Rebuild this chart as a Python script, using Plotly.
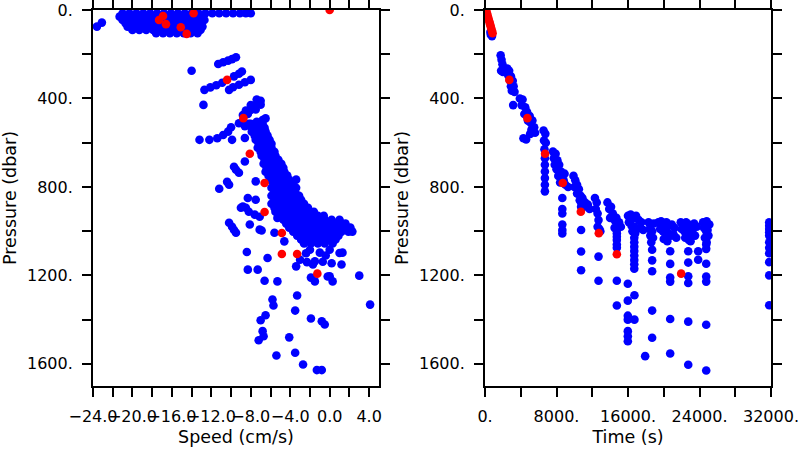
import plotly.graph_objects as go

# ---------------- LEFT PANEL: speed vs pressure ----------------
# top blob (near surface)
top_speed = [-21.0,-20.3,-19.6,-18.9,-18.2,-17.5,-16.8,-16.1,-15.4,-14.7,-14.0,-13.3,-12.6,-11.9,-11.2,-10.5,-9.8,-9.1,-8.5,-8.0,
             -21.3,-20.6,-19.9,-19.2,-18.5,-17.8,-17.1,-16.4,-15.7,-15.0,-14.3,-13.6,-12.9,
             -21.0,-20.3,-19.6,-18.9,-18.2,-17.5,-16.8,-16.1,-15.4,-14.7,-14.0,-13.3,-12.7,
             -20.7,-20.0,-19.3,-18.6,-17.9,-17.2,-16.5,-15.8,-15.1,-14.4,-13.7,-13.0,
             -20.5,-19.8,-19.1,-18.4,-17.7,-17.0,-16.3,-15.6,-14.9,-14.2,-13.5,-12.9,
             -20.0,-19.3,-18.6,-17.9,-17.2,-16.5,-15.8,-15.1,-14.4,-13.7,-13.1,
             -17.6,-16.9,-16.2,-15.5,-14.8,-14.1,-13.4,
             -23.6,-23.1]
top_pres = [15]*20 + [30]*13 + [45]*13 + [60]*12 + [75]*12 + [90]*11 + [105]*7 + [75, 57]

# scattered streaks in the upper/mid water column
mid_speed = [-11.3,-10.8,-10.3,-9.9,-9.5,-14.0,
             -12.7,-12.1,-11.5,-10.9,-9.7,-9.2,-8.9,-9.8,-9.2,-8.6,-8.0,-10.2,
             -12.8,-7.4,-7.0,-8.0,-7.5,-7.0,-8.5,-8.0,-7.5,-8.8,-8.3,-7.8,-7.2,
             -9.2,-8.6,-8.0,-7.4,-6.8,-6.5,
             -13.2,-12.2,-11.4,-10.8,-10.3,-10.0,-9.9,-8.6,
             -8.6,-9.7,-9.5,-9.2,-10.4,-10.2,-11.2,-7.5,
             -8.3,-7.5,-3.4,-8.5,-8.8,-8.2,-7.6,-7.1,-9.0,
             -10.2,-9.9,-9.7,-9.5,-8.1,-6.9,-5.6,-7.1,-5.3]
mid_pres = [244,236,229,222,214,275,
            361,350,340,329,300,288,278,349,338,327,316,361,
            429,405,410,430,432,428,455,452,450,475,470,440,418,
            512,525,515,505,498,490,
            587,587,580,565,550,530,587,579,
            685,709,722,736,777,790,808,775,
            850,858,767,894,889,912,925,935,894,
            962,980,995,1007,970,997,1007,993,940]

# dense band
band_speed = [-8.2,-7.5,-6.8, -7.9,-7.2,-6.6,
              -7.9,-7.2,-6.5, -7.6,-6.9,-6.3, -7.5,-6.8,-6.1, -7.2,-6.5,-5.9,
              -7.3,-6.6,-5.9, -7.0,-6.3,-5.6, -6.9,-6.2,-5.5, -6.6,-5.9,-5.2,
              -6.7,-6.0,-5.4,-4.9, -6.4,-5.7,-5.1,-4.7, -6.5,-5.9,-5.2,-4.6,
              -6.2,-5.6,-4.9,-4.3, -6.0,-5.4,-4.7,-4.1, -5.7,-5.1,-4.4,-3.8,
              -5.9,-5.2,-4.5,-3.8,-3.4, -5.6,-4.9,-4.2,-3.5,
              -5.9,-5.2,-4.5,-3.8,-3.1, -5.6,-4.9,-4.2,-3.5,-2.9,
              -5.9,-5.2,-4.5,-3.8,-3.2,-2.6, -5.6,-4.9,-4.2,-3.5,-2.9,-2.2,
              -5.5,-4.8,-4.1,-3.5,-2.9,-2.2,-1.6, -5.1,-4.4,-3.8,-3.2,-2.5,-1.9,-1.2,-0.6,
              -4.7,-4.0,-3.3,-2.6,-1.9,-1.2,-0.5,0.2,1.0,
              -4.4,-3.7,-3.0,-2.3,-1.6,-0.9,-0.2,0.5,1.2,1.6,
              -4.1,-3.4,-2.7,-2.0,-1.3,-0.6,0.1,0.8,1.6,2.1,
              -3.7,-3.0,-2.3,-1.6,-0.9,-0.2,0.5,1.2,1.9,2.3,
              -3.3,-2.6,-1.9,-1.2,-0.5,0.2,0.9,
              -2.9,-2.2,-1.5,-0.8,-0.1,0.6,
              -2.6,-1.9,-1.2,-0.5,0.3]
band_pres = ([515]*3 + [533]*3 + [550]*3 + [568]*3 + [587]*3 + [605]*3 +
             [623]*3 + [641]*3 + [659]*3 + [677]*3 +
             [695]*4 + [713]*4 + [731]*4 + [749]*4 + [768]*4 + [786]*4 +
             [804]*5 + [822]*4 + [840]*5 + [858]*5 + [876]*6 + [894]*6 +
             [912]*7 + [930]*8 + [948]*9 + [966]*10 + [984]*10 + [1002]*10 +
             [1020]*7 + [1038]*6 + [1056]*5)

# deep scattered points
deep_speed = [-4.6,-8.4,-6.3,-8.3,-7.3,-6.6,-5.3,-3.4,-3.0,-2.3,-1.7,-1.9,-1.5,-0.2,0.3,
              -0.7,0.2,1.2,1.0,3.0,4.1,-3.3,-5.8,-5.7,-3.5,-1.9,-0.8,-0.5,-6.5,-7.0,
              -6.8,-6.7,-7.2,-4.1,-5.4,-3.5,-2.7,-1.3,-0.8,-2.0,-1.0,0.0,1.3,-1.5,0.0,-2.4,-0.4]
deep_pres = [1046,1094,1121,1174,1174,1224,1227,1159,1129,1140,1151,1210,1227,1205,1227,
             1138,1145,1151,1099,1201,1332,1291,1309,1336,1359,1395,1407,1422,1380,1403,
             1452,1475,1493,1480,1562,1550,1603,1628,1628,1084,1097,1084,1097,1136,1204,1100,1110]

red_speed = [-17.3,-16.9,-16.6,-15.1,-14.5,-13.8,0.0,-10.4,-8.75,-8.1,-6.6,-6.6,-4.85,-4.85,-3.3,-1.25]
red_pres_l = [45,27,64,78,108,15,0,316,489,650,782,913,1008,1103,1103,1192]

# ---------------- RIGHT PANEL: time vs pressure ----------------
blue_time = [600,700,780,650,
             1750,1850,1950,1800,2000,
             2500,2700,2600,2900,2800,3100,2900,3200,3000,3300,3150,
             3900,4200,4100,4500,4400,4700,4800,5000,5100,5300,5200,5500,5600,5050,4300,4600,
             6550,6750,6600,6800,6650,6700,6700,6700,6700,6700,6700,
             7600,7700,7900,8100,7800,8000,8300,8500,8200,8600,8800,9000,8900,9300,8400,
             8650,8650,8650,8650,8650,8650,
             9900,10100,10000,10300,10500,10300,10700,10600,10900,11200,11500,11000,11700,
             10750,10750,10750,10750,10750,
             12300,12500,12400,12600,12700,12600,12800,12900,12700,12700,
             13700,13900,14100,14300,14000,14500,14700,14800,15000,15200,14500,
             14750,14750,14750,14750,14750,14750,14750,14750,
             15980,15980,16720,15980,15980,16720,15980,15980,15980,17920,
             16000,16300,16600,16900,17200,17500,16100,16400,16700,17000,17300,17700,16500,16800,
             16700,16700,16700,16700,16700,16700,16700,16700,
             18300,18600,18900,18400,18700,18500,18800,18600,
             18700,18700,18700,18700,18700,
             19400,19700,20000,20300,20600,20900,21200,19600,19900,20200,20500,20800,21100,21400,20000,20400,
             20720,20720,20720,20720,20720,20720,
             21900,22200,22500,22800,23100,23400,23700,22000,22300,22600,22900,23200,23500,22400,22800,23000,
             22740,22740,22740,22740,22740,22740,23850,23850,
             24400,24800,25100,24500,24900,25000,24600,24800,
             24750,24750,24750,24750,24750,24750,24750,24750,24750,
             31800,31800,31800,31800,31800,31800,31800,31800,31800,31800,31800]
blue_pres_r = [100,110,118,112,
               205,225,245,275,280,
               265,275,295,300,320,320,345,345,365,370,430,
               400,405,430,440,470,460,500,480,510,500,540,530,555,560,580,585,
               545,560,590,600,630,670,700,730,760,790,820,
               640,670,650,680,700,720,700,730,750,760,770,790,740,800,780,
               850,900,920,970,995,1010,
               750,770,800,790,810,830,840,860,850,870,880,890,900,
               870,890,995,1092,1177,
               850,870,900,920,950,980,990,1000,1115,1224,
               870,900,890,920,940,950,940,970,960,980,985,
               995,1010,1025,1040,1060,1075,1224,1336,
               1238,1314,1290,1382,1400,1400,1452,1475,1498,1565,
               930,925,940,930,950,960,960,975,980,990,985,995,1000,1010,
               1030,1050,1070,1090,1110,1130,1150,1170,
               960,970,965,990,1000,1020,1030,1050,
               1084,1132,1181,1359,1482,
               960,955,965,960,975,970,985,990,1000,995,1010,1020,1015,1030,1035,1045,
               1091,1148,1210,1228,1397,1553,
               960,965,960,970,975,965,980,990,1000,995,1010,1005,1020,1030,1040,1045,
               1091,1142,1204,1234,1409,1604,1091,1129,
               960,955,970,985,995,1020,1030,1050,
               1000,1030,1060,1080,1147,1205,1228,1423,1630,
               960,975,990,1005,1020,1050,1075,1100,1140,1200,1335]

red_time = [60,150,220,290,360,430,500,570,640,710,780,850,
            2720,4740,6720,8700,10720,12730,14750,21950]
red_pres_r = [0,5,15,25,35,45,55,65,75,85,95,105,
              316,489,650,782,912,1009,1104,1192]

# ---------------- axes ticks ----------------
speed_tick_vals = [-24,-22,-20,-18,-16,-14,-12,-10,-8,-6,-4,-2,0,2,4]
speed_tick_text = ["\u221224.0","","\u221220.0","","\u221216.0","","\u221212.0","",
                   "\u22128.0","","\u22124.0","","0.0","","4.0"]
time_tick_vals = [0,4000,8000,12000,16000,20000,24000,28000,32000]
time_tick_text = ["0.","","8000.","","16000.","","24000.","","32000."]
pres_tick_vals = [0,200,400,600,800,1000,1200,1400,1600]
pres_tick_text = ["0.","","400.","","800.","","1200.","","1600."]

BLUE = "#0000ff"
RED = "#ff0000"
MS = 8.6
FONT = "DejaVu Sans"

fig = go.Figure()
left_speed = top_speed + mid_speed + band_speed + deep_speed
left_pres = top_pres + mid_pres + band_pres + deep_pres
fig.add_trace(go.Scatter(x=left_speed, y=left_pres, mode="markers",
                         marker=dict(color=BLUE, size=MS, line=dict(width=0)),
                         xaxis="x", yaxis="y", showlegend=False))
fig.add_trace(go.Scatter(x=red_speed, y=red_pres_l, mode="markers",
                         marker=dict(color=RED, size=MS, line=dict(width=0)),
                         xaxis="x", yaxis="y", showlegend=False))
fig.add_trace(go.Scatter(x=blue_time, y=blue_pres_r, mode="markers",
                         marker=dict(color=BLUE, size=MS, line=dict(width=0)),
                         xaxis="x2", yaxis="y2", showlegend=False))
fig.add_trace(go.Scatter(x=red_time, y=red_pres_r, mode="markers",
                         marker=dict(color=RED, size=MS, line=dict(width=0)),
                         xaxis="x2", yaxis="y2", showlegend=False))

axis_common = dict(showline=True, linewidth=2, linecolor="black", mirror="allticks",
                   ticks="outside", ticklen=9, tickwidth=1.5, tickcolor="black",
                   showgrid=False, zeroline=False, tickangle=0, automargin=False,
                   tickfont=dict(family=FONT, size=16, color="black"))

fig.update_layout(
    width=800, height=450,
    paper_bgcolor="white", plot_bgcolor="white",
    margin=dict(l=93, r=29, t=10, b=64, autoexpand=False),
    xaxis=dict(domain=[0, 0.4218], range=[-24, 5], tickmode="array",
               tickvals=speed_tick_vals, ticktext=speed_tick_text,
               title=dict(text="Speed (cm/s)", font=dict(family=FONT, size=17.5, color="black"), standoff=6),
               ticklabelstandoff=6, anchor="y", **axis_common),
    yaxis=dict(domain=[0, 1], range=[1700, 0], tickmode="array",
               tickvals=pres_tick_vals, ticktext=pres_tick_text,
               title=dict(text="Pressure (dbar)", font=dict(family=FONT, size=17.5, color="black"), standoff=6),
               ticklabelstandoff=6, anchor="x", **axis_common),
    xaxis2=dict(domain=[0.5782, 1], range=[0, 32000], tickmode="array",
                tickvals=time_tick_vals, ticktext=time_tick_text,
                title=dict(text="Time (s)", font=dict(family=FONT, size=17.5, color="black"), standoff=6),
                ticklabelstandoff=6, anchor="y2", **axis_common),
    yaxis2=dict(domain=[0, 1], range=[1700, 0], tickmode="array",
                tickvals=pres_tick_vals, ticktext=pres_tick_text,
                title=dict(text="Pressure (dbar)", font=dict(family=FONT, size=17.5, color="black"), standoff=6),
                ticklabelstandoff=6, anchor="x2", **axis_common),
)

fig.write_html("out.html", config={"displayModeBar": False},
               post_script="document.body.style.margin='0px';document.body.style.overflow='hidden';")
